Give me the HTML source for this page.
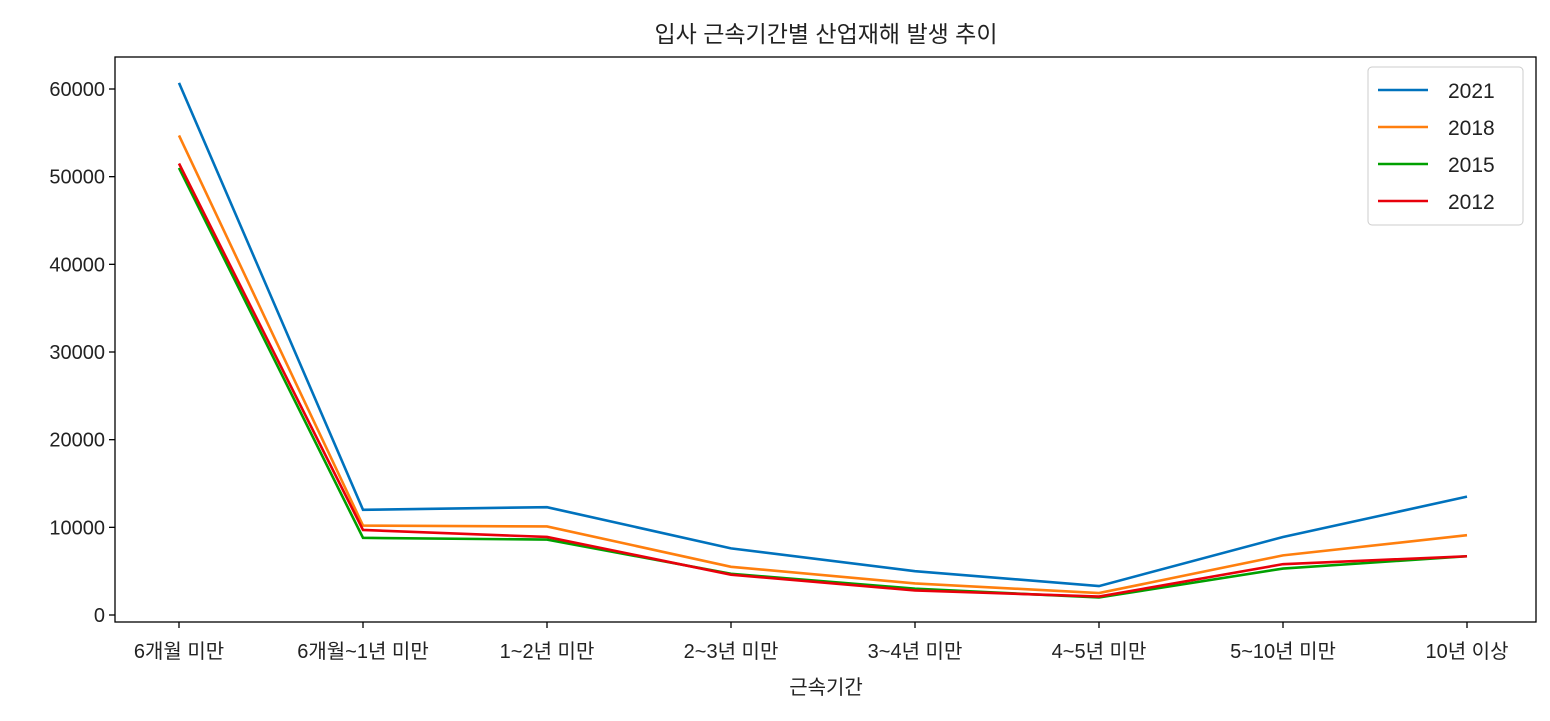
<!DOCTYPE html>
<html><head><meta charset="utf-8"><style>
body{margin:0;background:#fff;}
svg text{font-family:"Liberation Sans","Noto Sans CJK KR",sans-serif;fill:#222;}
</style></head><body>
<svg id="chart" width="1550" height="716" xmlns="http://www.w3.org/2000/svg">
<text x="826" y="42" font-size="23" text-anchor="middle">입사 근속기간별 산업재해 발생 추이</text>
<g id="plot"></g>
<text x="826" y="694" font-size="20" text-anchor="middle">근속기간</text>
</svg>
<script>
const categories=["6개월 미만","6개월~1년 미만","1~2년 미만","2~3년 미만","3~4년 미만","4~5년 미만","5~10년 미만","10년 이상"];
const seriesNames=["2021","2018","2015","2012"];
const s2021=[60700,12000,12300,7600,5000,3300,8900,13500];
const s2018=[54700,10200,10100,5500,3600,2500,6800,9100];
const s2015=[51000,8800,8600,4700,3000,2000,5300,6700];
const s2012=[51500,9700,8900,4600,2800,2100,5800,6700];
const yTicks=[0,10000,20000,30000,40000,50000,60000];
const colors=["#0072bd","#ff7f0e","#00a000","#e8000b"];
const NS="http://www.w3.org/2000/svg";
const L=115,R=1536,T=57,B=622;
const x=i=>179+i*(1467-179)/(categories.length-1);
const y=v=>615-v*(615-89)/60000;
const g=document.getElementById('plot');
function mk(t,a){const e=document.createElementNS(NS,t);for(const k in a)e.setAttribute(k,a[k]);g.appendChild(e);return e;}
const frame=mk('rect',{x:L,y:T,width:R-L,height:B-T,fill:'none',stroke:'#000','stroke-width':1.3});


yTicks.forEach(v=>{
 const t=mk('line',{x1:L-6,x2:L,y1:y(v),y2:y(v),stroke:'#000','stroke-width':1.3});
 
 
 const l=mk('text',{x:L-10,y:y(v)+7,'font-size':20,'text-anchor':'end'});l.textContent=v;
 
 
});
categories.forEach((c,i)=>{
 const t=mk('line',{x1:x(i),x2:x(i),y1:B,y2:B+6,stroke:'#000','stroke-width':1.3});
 
 
 const l=mk('text',{x:x(i),y:B+36,'font-size':20,'text-anchor':'middle'});l.textContent=c;
 
 
});
[s2021,s2018,s2015,s2012].forEach((s,k)=>{
 const p=mk('polyline',{points:s.map((v,i)=>x(i)+','+y(v)).join(' '),fill:'none',stroke:colors[k],'stroke-width':2.6});
 
 
});
const lg=mk('rect',{x:1368,y:67,width:155,height:158,fill:'#fff',stroke:'#ccc',rx:4});


seriesNames.forEach((n,k)=>{
 const yy=90+k*37;
 const ln=mk('line',{x1:1378,x2:1428,y1:yy,y2:yy,stroke:colors[k],'stroke-width':2.6});
 
 
 const t=mk('text',{x:1448,y:yy+8,'font-size':21});t.textContent=n;
 
 
});
</script>
</body></html>
